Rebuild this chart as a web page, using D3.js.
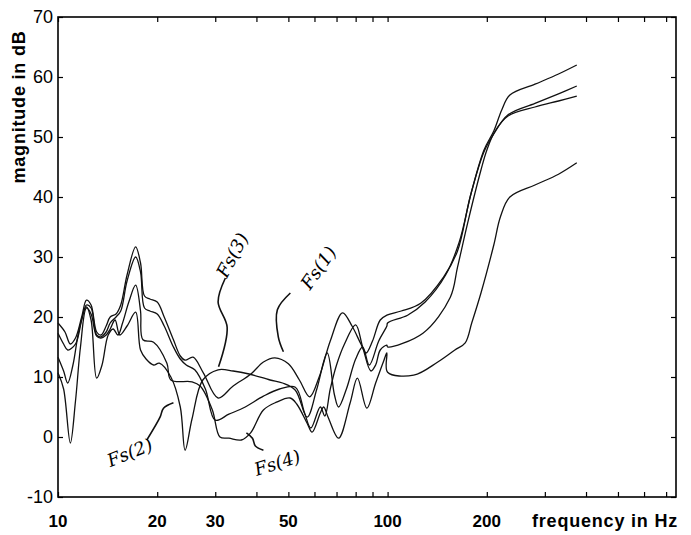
<!DOCTYPE html>
<html>
<head>
<meta charset="utf-8">
<script src="https://cdn.jsdelivr.net/npm/d3@7"></script>
<style>
  body { margin: 0; background: #fff; }
  svg { display: block; }
</style>
</head>
<body>
<script>
// chart values, [frequency in Hz, magnitude in dB]
const fs1 = [[10, 19.0], [10.5, 17.5], [10.9, 15.5], [11.3, 16.5], [11.8, 20], [12.2, 22.8], [12.6, 22], [13.1, 17.5],
  [13.5, 17], [14.0, 18.5], [14.4, 20], [15.0, 20.5], [15.5, 22], [16.2, 27], [17.2, 31.7], [17.8, 29], [18.3, 23.5],
  [19.0, 23], [20.0, 22.5], [21.0, 20], [22.4, 16.2], [23.5, 13.5], [24.3, 12.8], [25.7, 13.3], [27.6, 10.7],
  [30.6, 6.5], [34, 8.5], [38.5, 10.5], [42, 12.5], [45.5, 13.2], [50, 12.2], [54, 9.5], [58, 6.7], [62, 10],
  [67, 16], [73, 20.7], [78, 18.5], [83, 15.5], [86, 14], [90, 16], [95, 19.5], [99.5, 20.3], [110, 21],
  [126, 22.3], [148, 26.7], [163, 31], [178, 40], [196, 47.8], [210, 51], [222, 54.5], [235, 57], [280, 58.8],
  [330, 60.5], [375, 62]];
const fs2 = [[10, 17.3], [10.4, 15.5], [10.7, 14.5], [11.3, 15.5], [11.8, 19.5], [12.2, 22], [12.6, 21.5], [13.1, 17],
  [13.5, 16.7], [14.0, 17.5], [14.4, 19], [15.0, 20], [15.5, 21], [16.2, 26], [17.2, 30], [17.8, 27.5], [18.3, 21.5],
  [19.0, 21], [20.0, 20.5], [21.0, 18.5], [22.4, 15], [23.5, 13], [24.5, 12], [26, 11.2], [28, 8], [30, 2.8],
  [33, 3.8], [37, 5], [42, 6.8], [47, 8], [52.5, 8.3], [56, 4], [58.5, 1.5], [62.5, 5], [64.5, 3.5], [67, 8],
  [70, 12], [74, 15.5], [80, 18.7], [84, 15], [89, 11], [92, 12], [95, 14.5], [99.5, 15.3], [100, 15],
  [128, 17.3], [155, 23.3], [163, 28.3], [175, 35.7], [192, 44.5], [200, 47.8], [212, 51], [232, 53.5],
  [280, 55], [330, 56], [375, 56.8]];
const fs3 = [[10, 13.3], [10.4, 11], [10.7, 9], [11.1, 12], [11.6, 18], [12.2, 21.7], [12.6, 19.5], [13.1, 9.8],
  [13.6, 12], [14.2, 17], [14.7, 18], [15.2, 17], [15.7, 19], [16.4, 22.5], [17.2, 25.3], [17.8, 21], [18.1, 16.2],
  [19.5, 15.8], [21.4, 12.3], [22, 9.5], [25.5, 9.2], [27, 8.5], [29.4, 4.5], [31, 0], [33, -0.2], [36, -0.5],
  [38.4, 0.7], [42, 4.5], [46, 5.8], [50.6, 6.5], [53, 5.5], [57, 2.3], [59, 0.8], [62.5, 4], [64, 5],
  [66, 3.3], [71, -0.2], [77, 5.7], [81, 9.8], [86.5, 4.8], [92, 9], [97.5, 12.8], [99.5, 14], [100, 10.8],
  [120, 10.3], [142, 12.5], [160, 14.5], [172, 15.7], [180, 19], [192, 24], [210, 32], [220, 36.7],
  [235, 40], [280, 42], [330, 43.8], [375, 45.7]];
const fs4 = [[10, 10.7], [10.4, 8], [10.9, -1], [11.3, 6], [11.7, 15], [12.2, 21.5], [12.6, 20.5], [13.1, 16.8],
  [13.5, 16.5], [14.0, 17], [14.4, 18], [14.9, 19.5], [15.4, 17], [16.2, 18.5], [17.2, 20.8], [17.8, 14.5],
  [18.5, 13], [19.5, 12], [20.3, 12.3], [22, 10], [23.5, 5], [24.3, -2.2], [25.5, 3], [27.5, 9.5], [30.6, 11.2],
  [34, 11], [38, 10.5], [44, 9.5], [48, 9], [52.5, 7.8], [57, 3.3], [61, 8], [65.6, 14], [69, 7], [71, 5],
  [75, 8], [80, 13], [84, 15], [88, 12], [94, 16], [99.5, 18.5], [100, 19], [115, 20.3], [130, 22.5],
  [150, 27], [165, 32.5], [180, 41], [196, 47.5], [210, 50.5], [232, 53.7], [280, 55.6], [330, 57.2], [375, 58.5]];
const series = [fs1, fs2, fs3, fs4];

const xTicks = [10, 20, 30, 40, 50, 60, 70, 80, 90, 100, 200, 300, 400, 500, 600, 700];
const xTickLabels = [10, 20, 30, 50, 100, 200];
const yTicks = [-10, 0, 10, 20, 30, 40, 50, 60, 70];

// hand-written notes: label, text position, leader line (all in data units)
const noteNames = ["Fs(3)", "Fs(1)", "Fs(2)", "Fs(4)"];
const noteText = [[33.8, 30.3, -62], [61.7, 28.2, -55], [16.5, -2.6, -22], [46.3, -4.3, -18]];
const noteLeaders = [
  [[32.2, 26.5], [30.6, 22.5], [32.6, 18.3], [30.7, 11.7]],
  [[50.7, 24], [46.3, 21.2], [46.6, 16.7], [48.3, 14.2]],
  [[18.6, -0.5], [20.4, 3.3], [20.9, 4.8], [22.4, 5.7]],
  [[42, -2.2], [39.7, -1.5], [38.9, -0.2], [37.3, 0.7]]
];

const width = 691;
const height = 535;
const plot = { left: 58, right: 676, top: 17, bottom: 497 };

const svg = d3.select("body").append("svg")
  .attr("width", width)
  .attr("height", height);

const x = d3.scaleLog().domain([10, 750]).range([plot.left, plot.right]);
const y = d3.scaleLinear().domain([-10, 70]).range([plot.bottom, plot.top]);

// axes with inward ticks
function styleAxis(g) {
  g.select(".domain").remove();
  g.selectAll(".tick line").attr("stroke", "#000").attr("stroke-width", 1.2);
}

svg.append("g")
  .attr("transform", "translate(0," + plot.bottom + ")")
  .call(d3.axisBottom(x).tickValues(xTicks).tickSize(-5).tickFormat(""))
  .call(styleAxis);
svg.append("g")
  .attr("transform", "translate(0," + plot.top + ")")
  .call(d3.axisTop(x).tickValues(xTicks).tickSize(-5).tickFormat(""))
  .call(styleAxis);
svg.append("g")
  .attr("transform", "translate(" + plot.left + ",0)")
  .call(d3.axisLeft(y).tickValues(yTicks).tickSize(-5).tickFormat(""))
  .call(styleAxis);
svg.append("g")
  .attr("transform", "translate(" + plot.right + ",0)")
  .call(d3.axisRight(y).tickValues(yTicks).tickSize(-5).tickFormat(""))
  .call(styleAxis);

svg.append("rect")
  .attr("x", plot.left)
  .attr("y", plot.top)
  .attr("width", plot.right - plot.left)
  .attr("height", plot.bottom - plot.top)
  .attr("fill", "none")
  .attr("stroke", "#000")
  .attr("stroke-width", 1.6);

// tick labels
svg.selectAll(".ylab")
  .data(yTicks)
  .enter()
  .append("text")
  .attr("class", "ylab")
  .attr("x", plot.left - 5)
  .attr("y", function(d) { return y(d); })
  .attr("dy", "0.36em")
  .attr("text-anchor", "end")
  .attr("font-family", "Liberation Sans, Arial, sans-serif")
  .attr("font-size", 18)
  .text(function(d) { return d; });

svg.selectAll(".xlab")
  .data(xTickLabels)
  .enter()
  .append("text")
  .attr("class", "xlab")
  .attr("x", function(d) { return x(d); })
  .attr("y", 527)
  .attr("text-anchor", "middle")
  .attr("font-family", "Liberation Sans, Arial, sans-serif")
  .attr("font-weight", "bold")
  .attr("font-size", 17)
  .text(function(d) { return d; });

svg.append("text")
  .attr("x", 532)
  .attr("y", 527)
  .attr("font-family", "Liberation Sans, Arial, sans-serif")
  .attr("font-weight", "bold")
  .attr("font-size", 18)
  .attr("letter-spacing", 0.8)
  .text("frequency in Hz");

svg.append("text")
  .attr("transform", "translate(25,107) rotate(-90)")
  .attr("text-anchor", "middle")
  .attr("font-family", "Liberation Sans, Arial, sans-serif")
  .attr("font-weight", "bold")
  .attr("font-size", 18)
  .attr("letter-spacing", 0.8)
  .text("magnitude in dB");

// curves
const line = d3.line()
  .x(function(d) { return x(d[0]); })
  .y(function(d) { return y(d[1]); })
  .curve(d3.curveCatmullRom.alpha(0.5));

svg.selectAll(".curve")
  .data(series)
  .enter()
  .append("path")
  .attr("class", "curve")
  .attr("d", line)
  .attr("fill", "none")
  .attr("stroke", "#111")
  .attr("stroke-width", 1.3);

// hand-written notes
svg.selectAll(".leader")
  .data(noteLeaders)
  .enter()
  .append("path")
  .attr("class", "leader")
  .attr("d", line)
  .attr("fill", "none")
  .attr("stroke", "#111")
  .attr("stroke-width", 1.6);

svg.selectAll(".note")
  .data(noteNames)
  .enter()
  .append("text")
  .attr("class", "note")
  .attr("transform", function(d, i) {
    const p = noteText[i];
    return "translate(" + x(p[0]) + "," + y(p[1]) + ") rotate(" + p[2] + ")";
  })
  .attr("text-anchor", "middle")
  .attr("dy", "0.35em")
  .attr("font-family", "DejaVu Serif, serif")
  .attr("font-style", "italic")
  .attr("font-size", 18)
  .text(function(d) { return d; });
</script>
</body>
</html>
